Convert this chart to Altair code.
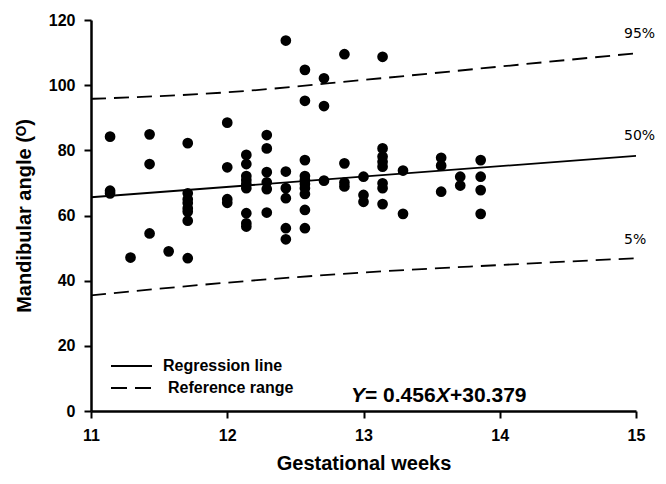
import altair as alt
import pandas as pd

# ---- data ----
weeks = (
    [11.14] * 3 + [11.29] + [11.43] * 3 + [11.57] + [11.71] * 8 + [12.0] * 4 +
    [12.14] * 9 + [12.29] * 6 + [12.43] * 6 + [12.57] * 10 + [12.71] * 3 +
    [12.86] * 4 + [13.0] * 3 + [13.14] * 8 + [13.29] * 2 + [13.57] * 3 +
    [13.71] * 2 + [13.86] * 4
)
angles = [
    84.2, 67.6, 66.8,
    47.1,
    84.9, 75.8, 54.5,
    49.0,
    82.2, 66.8, 65.0, 63.8, 62.2, 61.2, 58.4, 46.9,
    88.5, 74.8, 65.0, 63.9,
    78.6, 75.8, 72.1, 70.9, 69.7, 68.4, 60.7, 57.6, 56.6,
    84.7, 80.6, 73.3, 70.2, 68.1, 60.9,
    113.7, 73.5, 68.4, 65.3, 56.1, 52.7,
    104.7, 95.2, 77.0, 72.1, 70.9, 69.7, 68.4, 66.6, 61.7, 56.1,
    102.1, 93.6, 70.7,
    109.5, 76.0, 70.1, 68.9,
    71.9, 66.3, 64.2,
    108.7, 80.6, 78.1, 76.5, 75.0, 69.9, 68.4, 63.5,
    73.8, 60.5,
    77.7, 75.3, 67.3,
    71.9, 69.2,
    77.0, 71.9, 67.8, 60.5,
]

reg_x = [11, 15]
reg_y = [65.6, 78.3]

pct_x = [11, 12, 13, 14, 15]
p95_y = [95.8, 97.8, 101.6, 105.7, 109.8]
p5_y = [35.5, 39.4, 42.5, 44.8, 46.9]

pct_labels = ["95%", "50%", "5%"]
pct_label_y = [115.7, 84.3, 52.5]

legend_labels = ["Regression line", "Reference range"]
eq_parts = ["Y", "= 0.456", "X", "+30.379"]

x_ticks = [11, 12, 13, 14, 15]
y_ticks = [0, 20, 40, 60, 80, 100, 120]

# ---- tables ----
pts = pd.DataFrame({"week": weeks, "angle": angles})
reg = pd.DataFrame({"week": reg_x, "angle": reg_y})
pct = pd.DataFrame({
    "week": pct_x * 2,
    "angle": p95_y + p5_y,
    "series": ["95%"] * len(pct_x) + ["5%"] * len(pct_x),
})
lab = pd.DataFrame({"week": [15] * 3, "angle": pct_label_y, "label": pct_labels})

FONT = "Liberation Sans"

xscale = alt.Scale(domain=[11, 15], nice=False, zero=False)
yscale = alt.Scale(domain=[0, 120], nice=False)

x_enc = alt.X("week:Q", scale=xscale,
              axis=alt.Axis(values=x_ticks, format="d", title="Gestational weeks",
                            titlePadding=10))
y_enc = alt.Y("angle:Q", scale=yscale,
              axis=alt.Axis(values=y_ticks, format="d", title="Mandibular angle (ᴼ)",
                            titlePadding=14))

points = alt.Chart(pts).mark_circle(size=115, color="black", opacity=1).encode(
    x=x_enc, y=y_enc
)

regline = alt.Chart(reg).mark_line(color="black", strokeWidth=1.8).encode(
    x="week:Q", y="angle:Q"
)

pctlines = alt.Chart(pct).mark_line(
    color="black", strokeWidth=1.8, strokeDash=[15, 8], interpolate="monotone"
).encode(x="week:Q", y="angle:Q", detail="series:N")

labels = alt.Chart(lab).mark_text(
    align="left", baseline="middle", dx=-12, font="DejaVu Sans", fontSize=14,
    color="black"
).encode(x="week:Q", y="angle:Q", text="label:N")

# legend (drawn inside the plot area)
leg_solid = alt.Chart(pd.DataFrame({"k": [0]})).mark_rule(
    color="black", strokeWidth=1.8
).encode(x=alt.value(20), x2=alt.value(61), y=alt.value(346))
leg_dash = alt.Chart(pd.DataFrame({"k": [0]})).mark_rule(
    color="black", strokeWidth=1.8, strokeDash=[16, 8]
).encode(x=alt.value(20), x2=alt.value(60), y=alt.value(368))
leg_t1 = alt.Chart(pd.DataFrame({"t": [legend_labels[0]]})).mark_text(
    align="left", baseline="middle", font=FONT, fontWeight="bold", fontSize=16,
    color="black"
).encode(x=alt.value(72), y=alt.value(346), text="t:N")
leg_t2 = alt.Chart(pd.DataFrame({"t": [legend_labels[1]]})).mark_text(
    align="left", baseline="middle", font=FONT, fontWeight="bold", fontSize=16,
    color="black"
).encode(x=alt.value(77), y=alt.value(368), text="t:N")

# equation, italic Y and X
eq_layers = []
eq_x = [260, 274, 345, 359]
eq_style = ["italic", "normal", "italic", "normal"]
for part, px, st in zip(eq_parts, eq_x, eq_style):
    eq_layers.append(
        alt.Chart(pd.DataFrame({"t": [part]})).mark_text(
            align="left", baseline="middle", font=FONT, fontWeight="bold",
            fontStyle=st, fontSize=21, color="black"
        ).encode(x=alt.value(px), y=alt.value(376), text="t:N")
    )

chart = alt.layer(
    pctlines, regline, points, labels, leg_solid, leg_dash, leg_t1, leg_t2, *eq_layers
).properties(
    width=545, height=391,
    padding={"left": 83, "top": 12, "right": 22, "bottom": 65},
    autosize=alt.AutoSizeParams(type="none"),
).configure_view(stroke=None).configure_axis(
    grid=False,
    domainColor="black", domainWidth=2.5,
    tickColor="black", tickWidth=2, tickSize=7,
    labelFont=FONT, labelFontWeight="bold", labelFontSize=16, labelColor="black",
    labelPadding=9, labelFlush=False,
    titleFont=FONT, titleFontWeight="bold", titleFontSize=20, titleColor="black",
)

chart.save("out.html", embed_options={"renderer": "svg", "actions": False})
